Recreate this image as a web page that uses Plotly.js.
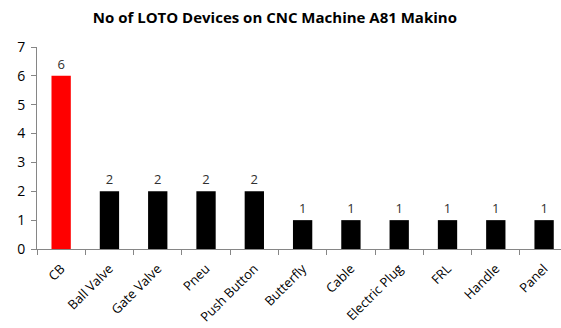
<!DOCTYPE html>
<html>
<head>
<meta charset="utf-8">
<script src="https://cdn.plot.ly/plotly-3.0.1.min.js"></script>
<style>
  html, body { margin: 0; padding: 0; background: #fff; }
  #chart { width: 561px; height: 328px; }
</style>
</head>
<body>
<div id="chart"></div>
<script>
// LOTO device counts per type on the CNC machine
const devices = ["CB", "Ball Valve", "Gate Valve", "Pneu", "Push Button", "Butterfly",
                 "Cable", "Electric Plug", "FRL", "Handle", "Panel"];
const counts = [6, 2, 2, 2, 2, 1, 1, 1, 1, 1, 1];
const barColors = ["#ff0000", "#000000", "#000000", "#000000", "#000000", "#000000",
                   "#000000", "#000000", "#000000", "#000000", "#000000"];
const yTicks = [0, 1, 2, 3, 4, 5, 6, 7];

const trace = {
  type: "bar",
  x: devices,
  y: counts,
  marker: { color: barColors, line: { color: "#000000", width: 0 } },
  width: 0.4,
  text: counts.map(String),
  textposition: "outside",
  cliponaxis: false,
  textfont: { family: "Open Sans, sans-serif", size: 13, color: "#303030" },
  hoverinfo: "x+y"
};

const layout = {
  width: 561,
  height: 328,
  margin: { l: 37, r: 0, t: 47, b: 79 },
  paper_bgcolor: "#ffffff",
  plot_bgcolor: "#ffffff",
  showlegend: false,
  title: {
    text: "<b>No of LOTO Devices on CNC Machine A81 Makino</b>",
    font: { family: "Open Sans, sans-serif", size: 15, color: "#000000" },
    x: 0.49, xanchor: "center",
    y: 0.945, yanchor: "middle"
  },
  xaxis: {
    type: "category",
    range: [-0.5, 10.35],
    tickson: "boundaries",
    ticks: "outside",
    ticklen: 5,
    tickcolor: "#868686",
    showline: true,
    linecolor: "#868686",
    linewidth: 1,
    showgrid: false,
    zeroline: false,
    tickangle: -45,
    ticklabelstandoff: 6,
    tickfont: { family: "Open Sans, sans-serif", size: 13, color: "#000000" }
  },
  yaxis: {
    range: [0, 7],
    tickvals: yTicks,
    ticks: "outside",
    ticklen: 5,
    tickcolor: "#868686",
    showline: true,
    linecolor: "#868686",
    linewidth: 1,
    showgrid: false,
    zeroline: false,
    ticklabelstandoff: 3,
    tickfont: { family: "Open Sans, sans-serif", size: 14, color: "#000000" }
  }
};

Plotly.newPlot("chart", [trace], layout, { displayModeBar: false, staticPlot: true });
</script>
</body>
</html>
